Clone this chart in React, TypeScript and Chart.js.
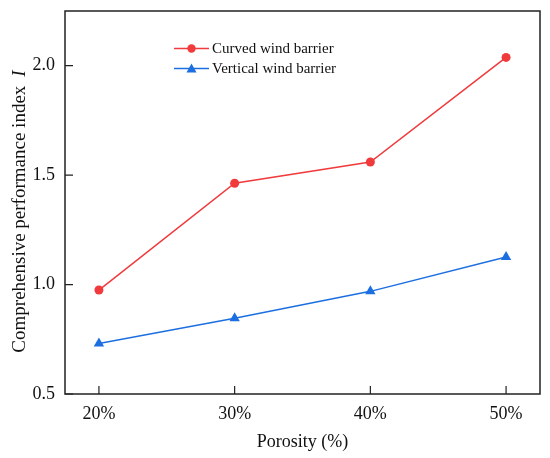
import React, { useEffect, useRef } from 'react';
import { Chart, ChartConfiguration, Plugin, registerables } from 'chart.js';

Chart.register(...registerables);

// porosity (%) on the x axis
const porosity = [20, 30, 40, 50];
const xTickLabels = ['20%', '30%', '40%', '50%'];
const yTicks = [0.5, 1.0, 1.5, 2.0];

// comprehensive performance index I
const curvedBarrier = [0.975, 1.463, 1.56, 2.038];
const verticalBarrier = [0.731, 0.846, 0.969, 1.126];

const RED = '#F03A3C';
const BLUE = '#1C6FE0';
const FONT = '"Liberation Serif", "Times New Roman", serif';

// frame, inward ticks, legend and y title with italic I
const framePlugin: Plugin<'line'> = {
  id: 'frame',
  afterDatasetsDraw(chart) {
    const { ctx, chartArea } = chart;
    const { left, right, top, bottom } = chartArea;
    const xs = chart.scales.x;
    const ys = chart.scales.y;
    ctx.save();
    ctx.strokeStyle = '#222';
    ctx.lineWidth = 1.5;
    ctx.strokeRect(left, top, right - left, bottom - top);
    ctx.lineWidth = 1.2;
    ctx.beginPath();
    yTicks.forEach((v) => {
      const py = ys.getPixelForValue(v);
      ctx.moveTo(left, py);
      ctx.lineTo(left + 8, py);
    });
    porosity.forEach((v) => {
      const px = xs.getPixelForValue(v);
      ctx.moveTo(px, bottom);
      ctx.lineTo(px, bottom - 8);
    });
    ctx.stroke();

    // legend
    const items = [
      { label: 'Curved wind barrier', color: RED, shape: 'circle' },
      { label: 'Vertical wind barrier', color: BLUE, shape: 'triangle' },
    ];
    ctx.font = `15px ${FONT}`;
    ctx.textBaseline = 'middle';
    ctx.textAlign = 'left';
    items.forEach((it, i) => {
      const y = 48.5 + i * 20;
      ctx.strokeStyle = it.color;
      ctx.lineWidth = 1.5;
      ctx.beginPath();
      ctx.moveTo(174, y);
      ctx.lineTo(209, y);
      ctx.stroke();
      ctx.fillStyle = it.color;
      ctx.beginPath();
      if (it.shape === 'circle') {
        ctx.arc(191.5, y, 4.2, 0, Math.PI * 2);
      } else {
        ctx.moveTo(191.5, y - 5);
        ctx.lineTo(196.5, y + 4);
        ctx.lineTo(186.5, y + 4);
        ctx.closePath();
      }
      ctx.fill();
      ctx.fillStyle = '#111';
      ctx.fillText(it.label, 212, y + 1);
    });

    // y axis title
    ctx.translate(20, 211.5);
    ctx.rotate(-Math.PI / 2);
    ctx.fillStyle = '#111';
    ctx.textBaseline = 'middle';
    const main = 'Comprehensive performance index';
    ctx.font = `19px ${FONT}`;
    const w1 = ctx.measureText(main).width;
    ctx.font = `italic 19px ${FONT}`;
    const w2 = ctx.measureText('I').width;
    const gap = 9;
    const start = -(w1 + gap + w2) / 2;
    ctx.font = `19px ${FONT}`;
    ctx.textAlign = 'left';
    ctx.fillText(main, start, 0);
    ctx.font = `italic 19px ${FONT}`;
    ctx.fillText('I', start + w1 + gap, 0);
    ctx.restore();
  },
};

const App: React.FC = () => {
  const canvasRef = useRef<HTMLCanvasElement>(null);
  const chartRef = useRef<Chart | null>(null);

  useEffect(() => {
    document.body.style.margin = '0';
    if (!canvasRef.current) return;
    const ctx = canvasRef.current.getContext('2d');
    if (!ctx) return;

    const config: ChartConfiguration<'line'> = {
      type: 'line',
      data: {
        datasets: [
          {
            label: 'Curved wind barrier',
            data: porosity.map((x, i) => ({ x, y: curvedBarrier[i] })),
            borderColor: RED,
            backgroundColor: RED,
            borderWidth: 1.5,
            pointStyle: 'circle',
            pointRadius: 4.5,
            pointBorderWidth: 0,
            tension: 0,
          },
          {
            label: 'Vertical wind barrier',
            data: porosity.map((x, i) => ({ x, y: verticalBarrier[i] })),
            borderColor: BLUE,
            backgroundColor: BLUE,
            borderWidth: 1.5,
            pointStyle: 'triangle',
            pointRadius: 6,
            pointBorderWidth: 0,
            tension: 0,
          },
        ],
      },
      options: {
        animation: false,
        responsive: false,
        layout: { padding: { left: 0, top: 11, right: 10, bottom: 0 } },
        plugins: {
          legend: { display: false },
          tooltip: { enabled: false },
        },
        scales: {
          x: {
            type: 'linear',
            min: 17.5,
            max: 52.5,
            grid: { display: false },
            border: { display: false },
            afterFit: (scale) => {
              scale.height = 64;
              scale.paddingLeft = 0;
              scale.paddingRight = 0;
              scale.paddingTop = 0;
              scale.paddingBottom = 0;
            },
            afterBuildTicks: (scale) => {
              scale.ticks = porosity.map((v) => ({ value: v }));
            },
            ticks: {
              padding: 1,
              color: '#111',
              font: { family: FONT, size: 18 },
              callback: (value) => xTickLabels[porosity.indexOf(Number(value))] ?? '',
            },
          },
          y: {
            min: 0.5,
            max: 2.25,
            grid: { display: false },
            border: { display: false },
            afterFit: (scale) => {
              scale.width = 65;
              scale.paddingLeft = 0;
              scale.paddingRight = 0;
              scale.paddingTop = 0;
              scale.paddingBottom = 0;
            },
            afterBuildTicks: (scale) => {
              scale.ticks = yTicks.map((v) => ({ value: v }));
            },
            ticks: {
              padding: 2,
              color: '#111',
              font: { family: FONT, size: 18 },
              callback: (value) => Number(value).toFixed(1),
            },
          },
        },
      },
      plugins: [
        framePlugin,
        {
          id: 'xTitle',
          afterDraw(chart) {
            const c = chart.ctx;
            c.save();
            c.font = `18px ${FONT}`;
            c.fillStyle = '#111';
            c.textAlign = 'center';
            c.textBaseline = 'middle';
            const cx = (chart.chartArea.left + chart.chartArea.right) / 2;
            c.fillText('Porosity (%)', cx, 442);
            c.restore();
          },
        },
      ],
    };

    chartRef.current = new Chart(ctx, config);
    return () => {
      chartRef.current?.destroy();
      chartRef.current = null;
    };
  }, []);

  return (
    <div style={{ position: 'relative', width: 550, height: 458, background: '#fff' }}>
      <canvas ref={canvasRef} width={550} height={458}></canvas>
    </div>
  );
};

export default App;
